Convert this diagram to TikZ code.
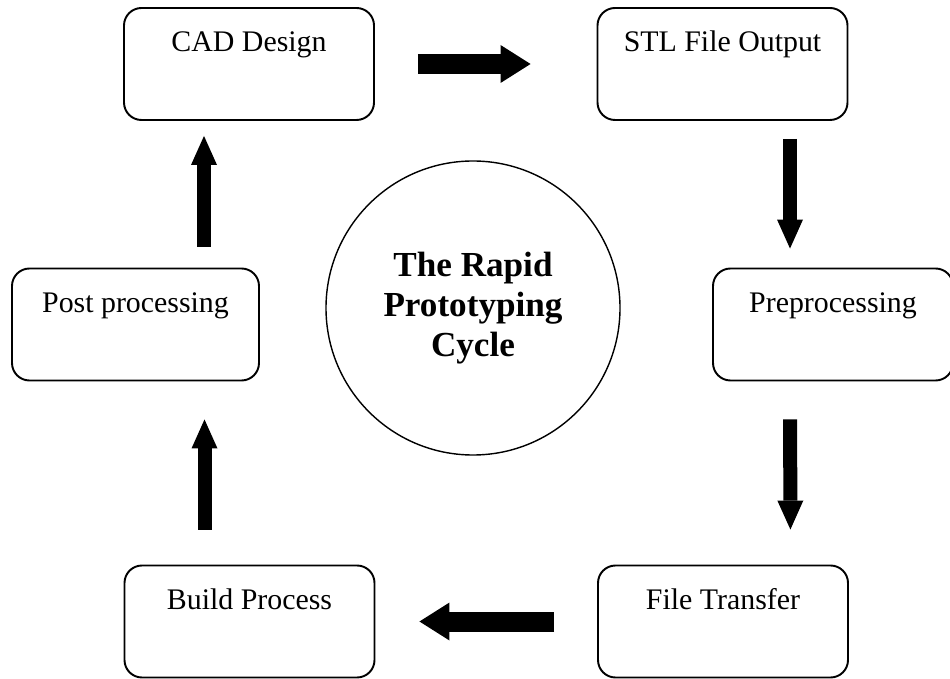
\documentclass[tikz,border=0pt]{standalone}
\usepackage{fontspec}
\setmainfont{Liberation Serif}
\usepackage{tikz}
\usetikzlibrary{arrows.meta,positioning,calc}

\begin{document}
\begin{tikzpicture}[
    stage/.style={draw,line width=1.1pt,rounded corners=0.35cm,minimum width=5cm,inner xsep=0pt,inner ysep=0pt,text height=0.88cm,text depth=1.36cm,font=\fontsize{17}{20}\selectfont},
    hflow/.style={line width=0.4cm,-{Triangle[length=0.6cm,width=0.76cm,line width=0pt]}},
    vflow/.style={line width=0.28cm,-{Triangle[length=0.58cm,width=0.52cm,line width=0pt]}}
]
\useasboundingbox (0,0) rectangle (19,-13.58);

\node[stage] (cad) at (4.98,-1.28) {CAD Design};
\node[stage] (stl) at (14.45,-1.28) {STL File Output};
\node[stage,minimum width=4.8cm] (pre) at (16.66,-6.49) {Preprocessing};
\node[stage,minimum width=4.94cm] (post) at (2.71,-6.49) {Post processing};
\node[stage] (build) at (4.99,-12.43) {Build Process};
\node[stage] (file) at (14.46,-12.43) {File Transfer};

\node[draw,circle,line width=0.8pt,minimum size=5.88cm,align=center,font=\bfseries\fontsize{20}{22.8}\selectfont] (cycle) at (9.46,-6.16) {The Rapid\\Prototyping\\Cycle};

% block arrows round the cycle
\draw[hflow,shorten <=0.86cm,shorten >=1.32cm] (cad) -- (stl);
\draw[vflow,shorten <=0.36cm,shorten >=0.38cm] ([xshift=1.35cm]stl.south) -- ([xshift=1.35cm]stl.south |- pre.north);
\draw[vflow,shorten <=0.76cm,shorten >=0.7cm] ([xshift=1.35cm]stl.south |- pre.south) -- ([xshift=1.35cm]file.north);
\draw[hflow,shorten <=0.86cm,shorten >=0.88cm] (file) -- (build);
\draw[vflow,shorten <=0.7cm,shorten >=0.76cm] ([xshift=-0.9cm]build.north) -- ([xshift=-0.9cm]build.north |- post.south);
\draw[vflow,shorten <=0.42cm,shorten >=0.3cm] ([xshift=-0.9cm]cad.south |- post.north) -- ([xshift=-0.9cm]cad.south);
\end{tikzpicture}
\end{document}
